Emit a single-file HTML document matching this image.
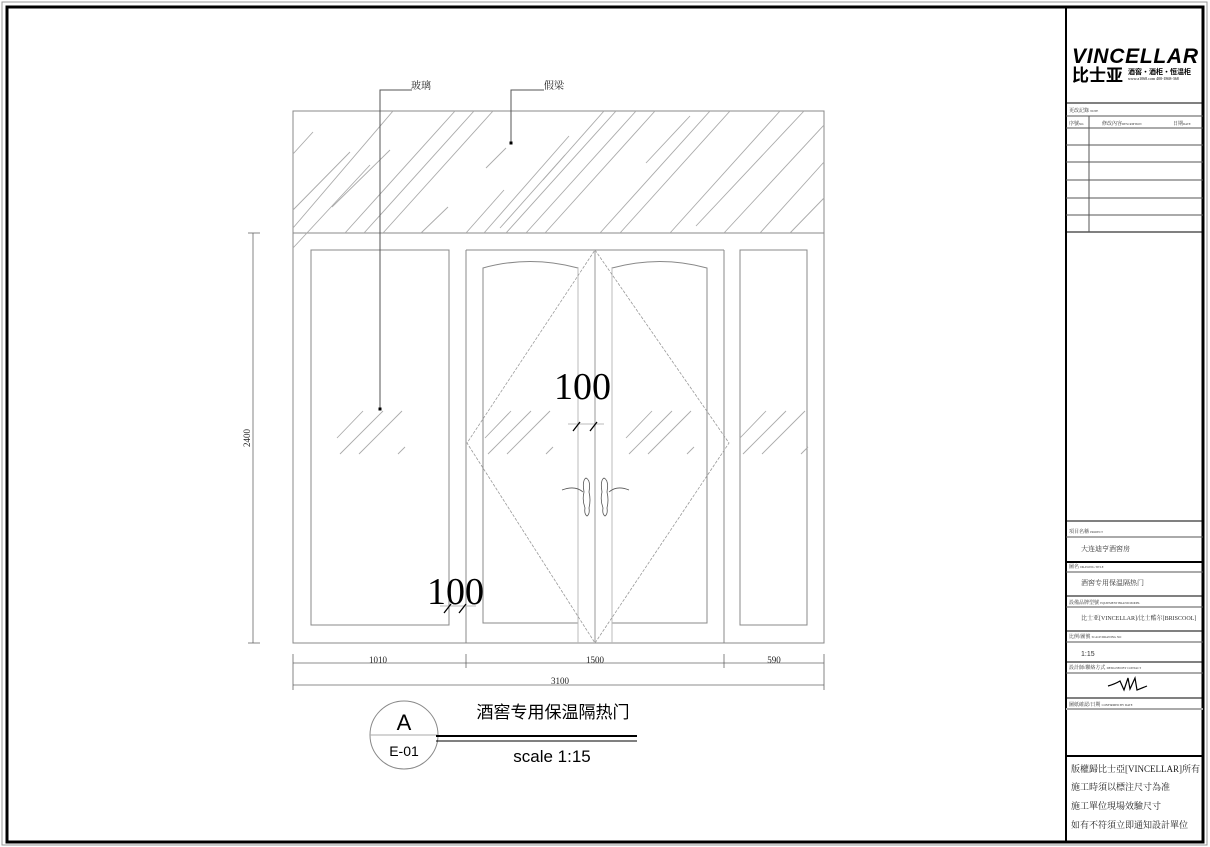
<!DOCTYPE html>
<html><head><meta charset="utf-8"><style>
html,body{margin:0;padding:0;background:#fff;}
svg{display:block;}
text{font-family:"Liberation Serif","Noto Serif CJK SC",serif;}
.s{font-family:"Liberation Sans","Noto Sans CJK SC",sans-serif;}
</style></head><body>
<svg width="1210" height="847" viewBox="0 0 1210 847" xmlns="http://www.w3.org/2000/svg">
<rect x="2" y="2" width="1205" height="843" fill="none" stroke="#999" stroke-width="1"/>
<rect x="7" y="7" width="1196" height="835" fill="none" stroke="#000" stroke-width="3"/>
<line x1="1066" y1="7" x2="1066" y2="842" stroke="#000" stroke-width="2"/>
<g stroke="#555" stroke-width="1" fill="none">
<line x1="1066" y1="103" x2="1203" y2="103" stroke="#000"/>
<line x1="1066" y1="116" x2="1203" y2="116"/>
<line x1="1066" y1="128" x2="1203" y2="128"/>
<line x1="1066" y1="145" x2="1203" y2="145"/>
<line x1="1066" y1="162" x2="1203" y2="162"/>
<line x1="1066" y1="180" x2="1203" y2="180"/>
<line x1="1066" y1="198" x2="1203" y2="198"/>
<line x1="1066" y1="215" x2="1203" y2="215"/>
<line x1="1066" y1="232" x2="1203" y2="232" stroke="#000"/>
<line x1="1089" y1="116" x2="1089" y2="232"/>
<line x1="1066" y1="521" x2="1203" y2="521" stroke="#000"/>
<line x1="1066" y1="537" x2="1203" y2="537"/>
<line x1="1066" y1="562" x2="1203" y2="562" stroke="#000" stroke-width="2"/>
<line x1="1066" y1="572" x2="1203" y2="572"/>
<line x1="1066" y1="596" x2="1203" y2="596" stroke="#000"/>
<line x1="1066" y1="607" x2="1203" y2="607"/>
<line x1="1066" y1="631" x2="1203" y2="631" stroke="#000"/>
<line x1="1066" y1="642" x2="1203" y2="642"/>
<line x1="1066" y1="662" x2="1203" y2="662" stroke="#000"/>
<line x1="1066" y1="673" x2="1203" y2="673"/>
<line x1="1066" y1="698" x2="1203" y2="698" stroke="#000"/>
<line x1="1066" y1="709" x2="1203" y2="709" stroke="#aaa" stroke-width="2"/>
<line x1="1066" y1="756" x2="1203" y2="756" stroke="#000" stroke-width="2"/>
</g>
<g class="s">
<text x="1072" y="63" font-size="21" font-weight="bold" font-style="italic" fill="#000" style="font-family:'Liberation Sans',sans-serif" textLength="126">VINCELLAR</text>
<text x="1072" y="81" font-size="17" font-weight="bold" fill="#000" style="font-family:'Noto Sans CJK SC',sans-serif">比士亚</text>
<text x="1128" y="74" font-size="7" font-weight="bold" fill="#000" style="font-family:'Noto Sans CJK SC',sans-serif">酒窖·酒柜·恒温柜</text>
<text x="1128" y="80" font-size="4" fill="#000">www.a1068.com 400-1868-368</text>
</g>
<g font-size="5" fill="#333" style="font-family:'Noto Serif CJK SC',serif">
<text x="1069" y="112">更改記錄 <tspan font-size="3">NOTE</tspan></text>
<text x="1069" y="125">序號<tspan font-size="3">NO.</tspan></text>
<text x="1102" y="125">修改內容<tspan font-size="3">DESCRIPTION</tspan></text>
<text x="1173" y="125">日期<tspan font-size="3">DATE</tspan></text>
<text x="1069" y="533">項目名稱 <tspan font-size="3">PROJECT</tspan></text>
<text x="1081" y="551" font-size="7">大连迪亨酒窖房</text>
<text x="1069" y="568">圖名 <tspan font-size="3">DRAWING TITLE</tspan></text>
<text x="1081" y="585" font-size="7">酒窖专用保温隔热门</text>
<text x="1069" y="604">設備品牌型號 <tspan font-size="3">EQUIPMENT BRAND MODEL</tspan></text>
<text x="1081" y="620" font-size="6">比士亚[VINCELLAR]/比士酷尔[BRISCOOL]</text>
<text x="1069" y="638">比例/圖號 <tspan font-size="3">SCALE/DRAWING NO</tspan></text>
<text x="1081" y="656" font-size="7" style="font-family:'Liberation Sans',sans-serif">1:15</text>
<text x="1069" y="669">設計師/聯絡方式 <tspan font-size="3">DESIGNED BY CONTACT</tspan></text>
<text x="1069" y="706">圖紙確認/日期 <tspan font-size="3">CONFIRMED BY DATE</tspan></text>
</g>
<path d="M1108 686 Q1115 684 1120 681 L1124 690 L1128 678 L1130 689 L1135 678 L1137 690 Q1142 688 1147 686" stroke="#000" fill="none" stroke-width="1.2"/>
<g font-size="9" fill="#222" style="font-family:'Noto Serif CJK SC',serif">
<text x="1071" y="772">版權歸比士亞[VINCELLAR]所有</text>
<text x="1071" y="790">施工時須以標注尺寸為准</text>
<text x="1071" y="809">施工單位現場效驗尺寸</text>
<text x="1071" y="828">如有不符須立即通知設計單位</text>
</g>

<!-- drawing -->
<g stroke="#888" stroke-width="1" fill="none">
<rect x="293" y="111" width="531" height="532"/>
<line x1="293" y1="233" x2="824" y2="233"/>
<rect x="311" y="250" width="138" height="375"/>
<rect x="740" y="250" width="67" height="375"/>
<line x1="466" y1="250" x2="724" y2="250"/>
<line x1="466" y1="250" x2="466" y2="643"/>
<line x1="724" y1="250" x2="724" y2="643"/>
<path d="M483 623 L483 268 Q530 255 578 268 L578 623 Z"/>
<path d="M612 623 L612 268 Q660 255 707 268 L707 623 Z"/>
<line x1="578" y1="268" x2="578" y2="643" stroke="#bbb"/>
<line x1="595" y1="250" x2="595" y2="643" stroke="#bbb" stroke-width="1.5"/>
<line x1="612" y1="268" x2="612" y2="643" stroke="#bbb"/>
</g>
<path d="M595 250 L729 443 L595 643 L467 443 Z" stroke="#999" stroke-width="0.8" fill="none" stroke-dasharray="3,1.5"/>
<!-- beam hatching -->
<g stroke="#aaa" stroke-width="0.9">
<line x1="293" y1="154" x2="313" y2="132"/>
<line x1="293" y1="210" x2="350" y2="152"/>
<line x1="293" y1="228" x2="393" y2="111"/>
<line x1="293" y1="248" x2="370" y2="165" />
<line x1="332" y1="207" x2="390" y2="150"/>
<line x1="345" y1="233" x2="455" y2="111"/>
<line x1="364" y1="233" x2="474" y2="111"/>
<line x1="383" y1="233" x2="493" y2="111"/>
<line x1="421" y1="233" x2="448" y2="207"/>
<line x1="484" y1="233" x2="569" y2="136"/>
<line x1="466" y1="233" x2="504" y2="190"/>
<line x1="486" y1="168" x2="506" y2="148"/>
<line x1="500" y1="228" x2="565" y2="155"/>
<line x1="506" y1="233" x2="616" y2="111"/>
<line x1="526" y1="233" x2="636" y2="111"/>
<line x1="545" y1="233" x2="655" y2="111"/>
<line x1="543" y1="180" x2="604" y2="111"/>
<line x1="600" y1="233" x2="710" y2="111"/>
<line x1="620" y1="233" x2="730" y2="111"/>
<line x1="670" y1="233" x2="780" y2="111"/>
<line x1="696" y1="226" x2="804" y2="111"/>
<line x1="724" y1="233" x2="824" y2="125"/>
<line x1="760" y1="233" x2="824" y2="162"/>
<line x1="790" y1="233" x2="824" y2="198"/>
<line x1="646" y1="163" x2="690" y2="116"/>
</g>
<!-- glass marks -->
<g id="gm" stroke="#aaa" stroke-width="0.9">
<line x1="337" y1="438" x2="363" y2="411"/>
<line x1="340" y1="454" x2="383" y2="411"/>
<line x1="359" y1="454" x2="402" y2="411"/>
<line x1="398" y1="454" x2="405" y2="447"/>
</g>
<use href="#gm" x="148"/>
<use href="#gm" x="289"/>
<use href="#gm" x="403"/>
<!-- handles -->
<g stroke="#555" stroke-width="0.8" fill="none">
<path d="M562 490 Q575 485 583 492 M609 492 Q617 485 629 490"/>
<path d="M586 478 Q582 480 584 492 Q582 500 585 508 Q584 514 587 516 Q590 514 589 508 Q591 500 589 492 Q591 480 586 478Z"/>
<path d="M604 478 Q600 480 602 492 Q600 500 603 508 Q602 514 605 516 Q608 514 607 508 Q609 500 607 492 Q609 480 604 478Z"/>
</g>
<!-- 100 labels -->
<text x="554" y="399" font-size="38" fill="#000">100</text>
<line x1="568" y1="424" x2="604" y2="424" stroke="#bbb"/>
<line x1="573" y1="431" x2="580" y2="422" stroke="#000" stroke-width="1.3"/>
<line x1="590" y1="431" x2="597" y2="422" stroke="#000" stroke-width="1.3"/>
<text x="427" y="604" font-size="38" fill="#000">100</text>
<line x1="440" y1="606" x2="476" y2="606" stroke="#bbb"/>
<line x1="444" y1="613" x2="451" y2="604" stroke="#000" stroke-width="1.3"/>
<line x1="459" y1="613" x2="466" y2="604" stroke="#000" stroke-width="1.3"/>
<!-- leaders -->
<g stroke="#555" stroke-width="1" fill="none">
<polyline points="412,90 380,90 380,409"/>
<polyline points="544,90 511,90 511,143"/>
</g>
<rect x="378.5" y="407.5" width="3" height="3" fill="#000"/>
<rect x="509.5" y="141.5" width="3" height="3" fill="#000"/>
<text x="411" y="89" font-size="10" fill="#222" style="font-family:'Noto Serif CJK SC',serif">玻璃</text>
<text x="544" y="89" font-size="10" fill="#222" style="font-family:'Noto Serif CJK SC',serif">假梁</text>
<!-- dimensions -->
<g stroke="#666" stroke-width="0.8" fill="none">
<line x1="253" y1="233" x2="253" y2="643"/>
<line x1="248" y1="233" x2="260" y2="233"/>
<line x1="248" y1="643" x2="260" y2="643"/>
<line x1="293" y1="663" x2="824" y2="663"/>
<line x1="293" y1="685" x2="824" y2="685"/>
<line x1="293" y1="654" x2="293" y2="690"/>
<line x1="466" y1="654" x2="466" y2="668"/>
<line x1="724" y1="654" x2="724" y2="668"/>
<line x1="824" y1="654" x2="824" y2="690"/>
</g>
<text x="250" y="438" font-size="9" fill="#222" transform="rotate(-90 250 438)" text-anchor="middle">2400</text>
<text x="378" y="663" font-size="9" fill="#222" text-anchor="middle">1010</text>
<text x="595" y="663" font-size="9" fill="#222" text-anchor="middle">1500</text>
<text x="774" y="663" font-size="9" fill="#222" text-anchor="middle">590</text>
<text x="560" y="684" font-size="9" fill="#222" text-anchor="middle">3100</text>
<!-- title -->
<circle cx="404" cy="735" r="34" fill="none" stroke="#888" stroke-width="1"/>
<line x1="370" y1="735" x2="438" y2="735" stroke="#aaa"/>
<line x1="436" y1="736" x2="637" y2="736" stroke="#000" stroke-width="2"/>
<line x1="436" y1="741" x2="637" y2="741" stroke="#000" stroke-width="1"/>
<text x="404" y="730" font-size="22" text-anchor="middle" class="s" style="font-family:'Liberation Sans',sans-serif">A</text>
<text x="404" y="756" font-size="14" text-anchor="middle" style="font-family:'Liberation Sans',sans-serif">E-01</text>
<text x="553" y="718" font-size="17" text-anchor="middle" style="font-family:'Noto Sans CJK SC',sans-serif">酒窖专用保温隔热门</text>
<text x="552" y="762" font-size="17" text-anchor="middle" style="font-family:'Liberation Sans',sans-serif">scale 1:15</text>
</svg>
</body></html>
